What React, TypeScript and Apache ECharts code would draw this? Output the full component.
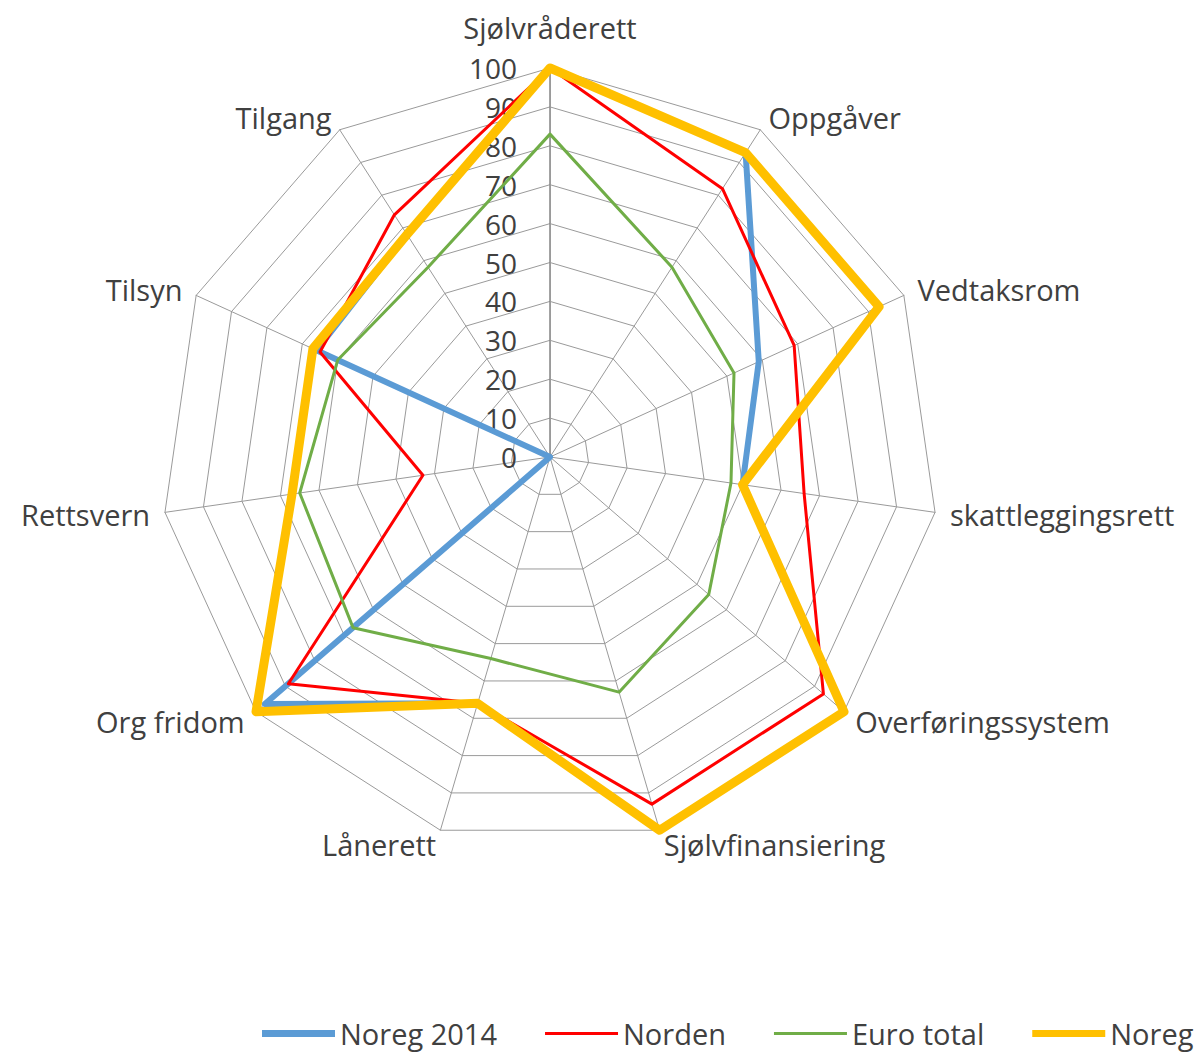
import React, { useEffect, useRef } from 'react';
import * as echarts from 'echarts';

// Axes in clockwise order starting at the top
const categories = [
  'Sjølvråderett',
  'Oppgåver',
  'Vedtaksrom',
  'skattleggingsrett',
  'Overføringssystem',
  'Sjølvfinansiering',
  'Lånerett',
  'Org fridom',
  'Rettsvern',
  'Tilsyn',
  'Tilgang',
];

const seriesNames = ['Noreg 2014', 'Norden', 'Euro total', 'Noreg 2020'];

const noreg2014 = [100, 93, 59, 50, 100, 100, 66, 97, 0, 66, 68];
const norden = [100, 82, 69, 66, 93, 93, 66, 89, 33, 65, 74];
const euroTotal = [83, 58, 52, 47, 54, 63, 54, 67, 65, 60, 58];
const noregB = [100, 93, 93, 50, 100, 100, 66, 100, 67, 67, 68];

const valueMin = 0;
const valueMax = 100;
const valueInterval = 10;

const colors = ['#5B9BD5', '#FF0000', '#70AD47', '#FFC000'];
const widths = [6, 3, 3, 9];

const FONT = "'Open Sans', 'Noto Sans', sans-serif";
const TEXT = '#404040';

// ECharts lays radar indicators counter-clockwise; reorder to clockwise
const ccw = <T,>(arr: T[]): T[] => [arr[0], ...arr.slice(1).reverse()];

export default function App() {
  const ref = useRef<HTMLDivElement>(null);

  useEffect(() => {
    if (!ref.current) return;
    const chart = echarts.init(ref.current, undefined, { renderer: 'svg' });
    const cx = 550;
    const cy = 457;
    const R = 389;
    const allValues = [noreg2014, norden, euroTotal, noregB];

    const option: any = {
      animation: false,
      backgroundColor: '#ffffff',
      radar: {
        center: [cx, cy],
        radius: R,
        startAngle: 90,
        shape: 'polygon',
        splitNumber: (valueMax - valueMin) / valueInterval,
        indicator: ccw(categories).map((n) => ({ name: n, min: valueMin, max: valueMax })),
        axisNameGap: 15,
        nameGap: 15,
        axisName: {
          color: TEXT,
          fontSize: 29,
          fontFamily: FONT,
          formatter: (name: string) => (name === categories[0] ? '{top|' + name + '}' : name),
          rich: {
            top: {
              color: TEXT,
              fontSize: 29,
              fontFamily: FONT,
              padding: [0, 0, 11, 0],
            },
          },
        },
        splitLine: { lineStyle: { color: '#9a9a9a', width: 1 } },
        splitArea: { show: false },
        axisLine: { lineStyle: { color: '#9a9a9a', width: 1 } },
        axisTick: { show: false },
        axisLabel: { show: false },
      },
      polar: { center: [cx, cy], radius: R },
      angleAxis: { type: 'value', min: 0, max: 360, startAngle: 90, show: false },
      radiusAxis: {
        type: 'value',
        min: valueMin,
        max: valueMax,
        interval: valueInterval,
        axisLine: { show: true, lineStyle: { color: '#858585', width: 1.5 } },
        axisTick: { show: false },
        splitLine: { show: false },
        axisLabel: { margin: 33, fontSize: 28, color: TEXT, fontFamily: FONT },
      },
      legend: {
        left: 262,
        top: 1019,
        padding: 0,
        width: 1400,
        orient: 'horizontal',
        itemGap: 48,
        itemWidth: 73,
        itemHeight: 7,
        textStyle: { fontSize: 29, color: TEXT, fontFamily: FONT },
        data: seriesNames.map((n, i) => ({
          name: n,
          icon: widths[i] > 4 ? 'path://M0,0H73V7H0Z' : 'path://M0,0H73V3H0Z',
        })),
      },
      series: [
        {
          type: 'radar',
          symbol: 'none',
          z: 3,
          data: seriesNames.map((n, i) => ({
            name: n,
            value: ccw(allValues[i]),
            itemStyle: { color: colors[i] },
            lineStyle: { color: colors[i], width: widths[i], join: 'round', cap: 'round' },
          })),
        },
      ],
    };
    chart.setOption(option);
    return () => chart.dispose();
  }, []);

  return (
    <div
      style={{
        position: 'fixed',
        left: 0,
        top: 0,
        width: 1194,
        height: 1056,
        overflow: 'hidden',
        background: '#fff',
      }}
    >
      <div ref={ref} style={{ width: 1194, height: 1056 }} />
    </div>
  );
}
